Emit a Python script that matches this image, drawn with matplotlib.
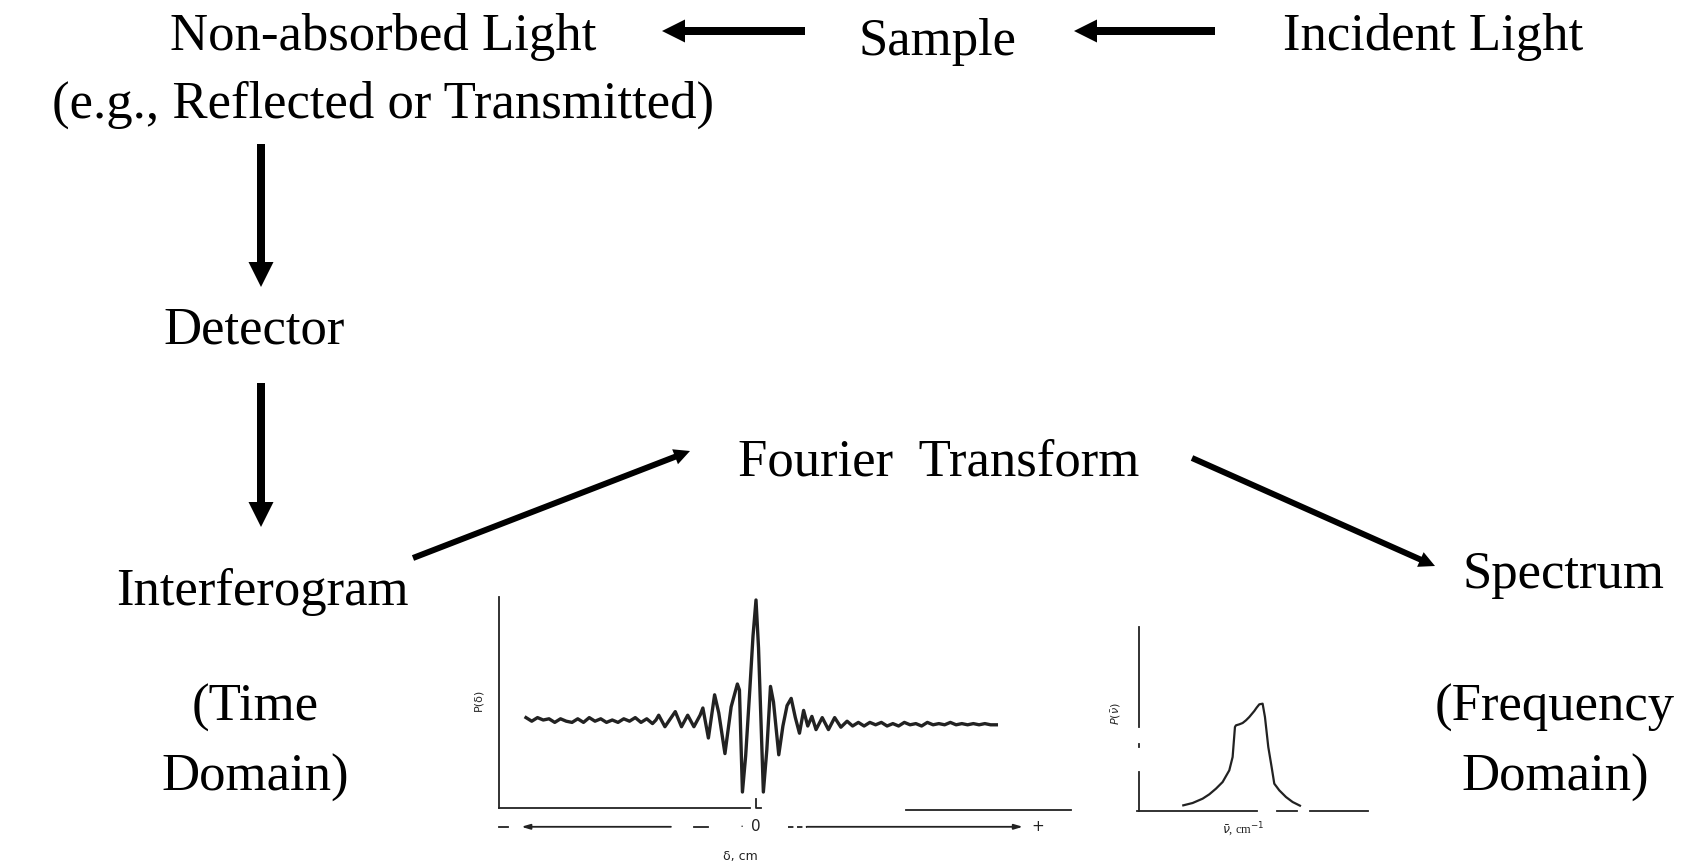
import numpy as np
import matplotlib.pyplot as plt
from matplotlib.patches import FancyArrowPatch

# interferogram trace (delta in arbitrary units, 0 = zero path difference)
ifg_x = [-1.00, -0.975, -0.95, -0.925, -0.90, -0.875, -0.85, -0.825, -0.80, -0.775,
         -0.75, -0.725, -0.70, -0.675, -0.65, -0.625, -0.60, -0.575, -0.55, -0.525,
         -0.50, -0.475, -0.45, -0.435,
         -0.423, -0.396, -0.351, -0.324, -0.297, -0.270, -0.243, -0.231, -0.207,
         -0.180, -0.162, -0.135, -0.108, -0.081, -0.072, -0.059, -0.045, -0.027,
         -0.013, 0.000, 0.011, 0.018, 0.032, 0.047, 0.063, 0.076, 0.099, 0.117,
         0.135, 0.153, 0.171, 0.189, 0.207, 0.225, 0.243, 0.261, 0.288, 0.315,
         0.342, 0.369, 0.396, 0.42, 0.445, 0.47, 0.495, 0.52, 0.545, 0.57, 0.595,
         0.62, 0.645, 0.67, 0.695, 0.72, 0.745, 0.77, 0.795, 0.82, 0.845, 0.87,
         0.895, 0.92, 0.945, 0.97, 0.995, 1.02, 1.045]
ifg_y = [0.02, -0.01, 0.02, 0.00, 0.01, -0.02, 0.01, -0.01, -0.02, 0.01,
         -0.02, 0.02, -0.01, 0.01, -0.02, 0.00, -0.02, 0.01, -0.01, 0.02,
         -0.02, 0.01, -0.03, 0.00,
         0.04, -0.056, 0.07, -0.056, 0.04, -0.056, 0.04, 0.10, -0.15,
         0.21, 0.06, -0.28, 0.11, 0.30, 0.25, -0.60, -0.30, 0.25,
         0.70, 1.00, 0.60, 0.20, -0.60, -0.25, 0.28, 0.15, -0.29, -0.05,
         0.12, 0.18, 0.02, -0.11, 0.08, -0.05, 0.03, -0.08, 0.02, -0.08,
         0.02, -0.06, -0.01, -0.05, -0.02, -0.05, -0.02, -0.04, -0.02, -0.05, -0.03,
         -0.05, -0.02, -0.04, -0.03, -0.05, -0.02, -0.04, -0.03, -0.04, -0.02, -0.04,
         -0.03, -0.04, -0.03, -0.04, -0.03, -0.04, -0.04]

# spectrum trace (wavenumber in arbitrary units)
spec_x = [1.32, 1.6, 1.9, 2.1, 2.3, 2.5, 2.7, 2.8, 2.87, 2.9, 3.0, 3.1, 3.2,
          3.3, 3.45, 3.52, 3.6, 3.7, 3.77, 3.87, 3.97, 4.05, 4.2, 4.4, 4.6, 4.82]
spec_y = [0.17, 0.24, 0.37, 0.50, 0.67, 0.87, 1.22, 1.62, 2.52, 2.57, 2.60, 2.64, 2.72,
          2.82, 3.00, 3.10, 3.20, 3.22, 2.82, 1.92, 1.32, 0.82, 0.62, 0.42, 0.27, 0.16]

W, H = 1693, 866
fig = plt.figure(figsize=(W / 100, H / 100), dpi=100)
plt.rcParams['font.family'] = ['Liberation Serif', 'DejaVu Serif']

ax = fig.add_axes([0, 0, 1, 1])
ax.set_xlim(0, W)
ax.set_ylim(H, 0)
ax.axis('off')

fs = 38
labels = [
    ("Non-absorbed Light", 383, 50),
    ("(e.g., Reflected or Transmitted)", 383, 118),
    ("Sample", 937, 55),
    ("Incident Light", 1433, 50),
    ("Detector", 254, 343),
    ("Interferogram", 262, 605),
    ("(Time", 255, 721),
    ("Domain)", 255, 791),
    ("Fourier  Transform", 939, 475),
    ("Spectrum", 1563, 588),
    ("(Frequency", 1555, 721),
    ("Domain)", 1555, 791),
]
for s, x, y in labels:
    ax.text(x, y, s, fontsize=fs, ha='center', va='baseline')

# flow arrows: (tail, tip, shaft px, head px)
arrows = [
    ((805, 31), (662, 31), 8, 23),
    ((1215, 31), (1074, 31), 8, 23),
    ((261, 144), (261, 287), 8, 25),
    ((261, 383), (261, 527), 8, 25),
    ((413, 558), (690, 451), 6, 16),
    ((1192, 458), (1435, 566), 6, 16),
]
k = 72 / 100  # px -> pt
for tail, tip, sw, hw in arrows:
    style = f"simple,head_length={hw * k},head_width={hw * k},tail_width={sw * k}"
    ax.add_patch(FancyArrowPatch(tail, tip, arrowstyle=style, mutation_scale=1,
                                 shrinkA=0, shrinkB=0, color='black', lw=0))


def inset(px0, py0, px1, py1, ox, oy, sx, sy):
    # axes covering pixel box, data origin at pixel (ox, oy), sx/sy px per unit
    a = fig.add_axes([px0 / W, 1 - py1 / H, (px1 - px0) / W, (py1 - py0) / H])
    a.set_xlim((px0 - ox) / sx, (px1 - ox) / sx)
    a.set_ylim((oy - py1) / sy, (oy - py0) / sy)
    a.axis('off')
    return a


# interferogram panel
gc = '#222222'
a1 = inset(455, 590, 1095, 866, 756, 720, 230, 120)
a1.plot(ifg_x, ifg_y, color=gc, lw=2.4)
a1.plot([-1.119, -1.119], [-0.733, 1.025], color=gc, lw=1.3)
a1.plot([-1.119, -0.027], [-0.733, -0.733], color=gc, lw=1.3)
a1.plot([0.0, 0.0, 0.02], [-0.66, -0.733, -0.733], color=gc, lw=1.3)
a1.plot([0.654, 1.368], [-0.75, -0.75], color=gc, lw=1.3)
a1.plot([-1.117, -1.08], [-0.89, -0.89], color=gc, lw=1.3)
a1.plot([-0.27, -0.207], [-0.89, -0.89], color=gc, lw=1.3)
a1.annotate('', xy=(-1.02, -0.89), xytext=(-0.37, -0.89),
            arrowprops=dict(arrowstyle='-|>,head_length=0.5,head_width=0.15',
                            color=gc, lw=1.3, shrinkA=0, shrinkB=0))
a1.plot([0.14, 0.22], [-0.89, -0.89], color=gc, lw=1.3, ls=(0, (3, 2)))
a1.annotate('', xy=(1.16, -0.89), xytext=(0.22, -0.89),
            arrowprops=dict(arrowstyle='-|>,head_length=0.5,head_width=0.15',
                            color=gc, lw=1.3, shrinkA=0, shrinkB=0))
a1.text(-0.063, -0.89, '·', fontsize=9, ha='center', va='center', color=gc)
a1.text(0.0, -0.89, '0', fontsize=11, ha='center', va='center', color=gc,
        family='DejaVu Sans')
a1.text(1.225, -0.89, '+', fontsize=11, ha='center', va='center', color=gc,
        family='DejaVu Sans')
a1.text(-0.07, -1.14, 'δ, cm', fontsize=9, ha='center', va='center', color=gc,
        family='DejaVu Sans')
a1.text(-1.207, 0.167, 'P(δ)', fontsize=8, ha='center', va='center', color=gc,
        rotation=90, family='DejaVu Sans')

# spectrum panel
a2 = inset(1100, 620, 1380, 866, 1139.3, 811, 33.33, 33.33)
a2.plot(spec_x, spec_y, color=gc, lw=1.6)
for y0, y1 in [(0, 1.17), (1.92, 2.02), (2.52, 5.52)]:
    a2.plot([0, 0], [y0, y1], color=gc, lw=1.3)
for x0, x1 in [(-0.08, 3.52), (4.12, 4.72), (5.12, 6.87)]:
    a2.plot([x0, x1], [0, 0], color=gc, lw=1.3)
a2.text(-0.68, 2.92, r'$P(\bar{\nu})$', fontsize=8, ha='center', va='center',
        color=gc, rotation=90)
a2.text(3.12, -0.58, r'$\bar{\nu}$, cm$^{-1}$', fontsize=9, ha='center', va='center',
        color=gc)

fig.savefig('out.png', dpi=100)
